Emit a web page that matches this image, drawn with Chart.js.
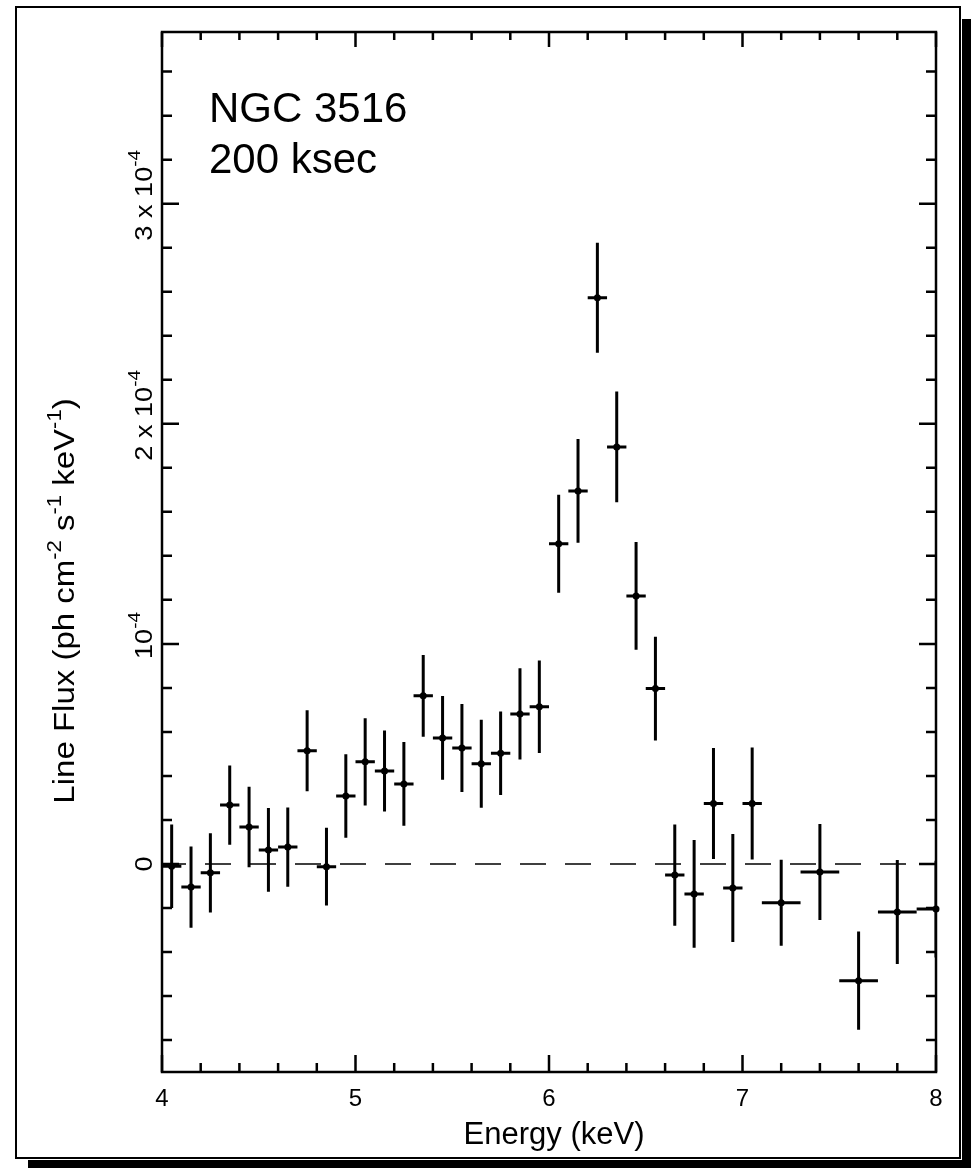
<!DOCTYPE html>
<html>
<head>
<meta charset="utf-8">
<script src="https://cdn.jsdelivr.net/npm/chart.js@4.4.1/dist/chart.umd.min.js"></script>
<style>
  html, body { margin: 0; padding: 0; background: #fff; }
  canvas { display: block; }
</style>
</head>
<body>
<canvas id="lineFluxChart" width="971" height="1168"></canvas>
<script>
// Fe K line profile of NGC 3516 (200 ksec), line flux vs energy
const FONT = '"Liberation Sans", Arial, Helvetica, sans-serif';
const FLUX_UNIT = 1e-4;

// bin centres and half-widths (keV)
const energy = [4.05, 4.15, 4.25, 4.35, 4.45, 4.55, 4.65, 4.75, 4.85, 4.95,
                5.05, 5.15, 5.25, 5.35, 5.45, 5.55, 5.65, 5.75, 5.85, 5.95,
                6.05, 6.15, 6.25, 6.35, 6.45, 6.55, 6.65, 6.75, 6.85, 6.95,
                7.05, 7.2, 7.4, 7.6, 7.8, 8.0];
const energyHalfWidth = [0.05, 0.05, 0.05, 0.05, 0.05, 0.05, 0.05, 0.05, 0.05, 0.05,
                         0.05, 0.05, 0.05, 0.05, 0.05, 0.05, 0.05, 0.05, 0.05, 0.05,
                         0.05, 0.05, 0.05, 0.05, 0.05, 0.05, 0.05, 0.05, 0.05, 0.05,
                         0.05, 0.1, 0.1, 0.1, 0.1, 0.1];

// line flux and 1-sigma errors, in units of 1e-4 ph cm^-2 s^-1 keV^-1
const flux = [-0.01, -0.105, -0.04, 0.268, 0.168, 0.064, 0.077, 0.514, -0.012, 0.309,
              0.464, 0.423, 0.364, 0.764, 0.573, 0.527, 0.455, 0.503, 0.682, 0.714,
              1.455, 1.695, 2.573, 1.895, 1.218, 0.797, -0.05, -0.136, 0.275, -0.109,
              0.275, -0.176, -0.036, -0.53, -0.218, -0.205];
const fluxErr = [0.19, 0.185, 0.18, 0.18, 0.183, 0.19, 0.18, 0.184, 0.177, 0.19,
                 0.198, 0.184, 0.19, 0.186, 0.19, 0.2, 0.2, 0.19, 0.207, 0.21,
                 0.223, 0.236, 0.25, 0.252, 0.245, 0.236, 0.23, 0.245, 0.252, 0.245,
                 0.254, 0.195, 0.218, 0.223, 0.236, 0.22];

// axis ranges and tick labels
const xMin = 4, xMax = 8;
const yMin = -0.945e-4, yMax = 3.78e-4;
const yTickValues = [0, 1e-4, 2e-4, 3e-4];
const yTickMantissa = ['0', '10', '2 x 10', '3 x 10'];
const yTickExponent = ['', '-4', '-4', '-4'];

const yTitleParts = [['Line Flux (ph cm', false], ['-2', true], [' s', false], ['-1', true],
                     [' keV', false], ['-1', true], [')', false]];
const annotationLines = ['NGC 3516', '200 ksec'];

// draws a run of normal / superscript pieces starting at (x, y) along the current x direction
function drawRich(ctx, parts, x, y, size, supSize, supRise) {
  let cx = x;
  parts.forEach(([text, sup]) => {
    ctx.font = (sup ? supSize : size) + 'px ' + FONT;
    ctx.fillText(text, cx, sup ? y - supRise : y);
    cx += ctx.measureText(text).width;
  });
}

function richWidth(ctx, parts, size, supSize) {
  return parts.reduce((w, [text, sup]) => {
    ctx.font = (sup ? supSize : size) + 'px ' + FONT;
    return w + ctx.measureText(text).width;
  }, 0);
}

const plotDecor = {
  id: 'plotDecor',
  beforeDraw(chart) {
    const ctx = chart.ctx;
    ctx.save();
    ctx.fillStyle = '#fff';
    ctx.fillRect(0, 0, chart.width, chart.height);
    // page frame with drop shadow
    ctx.fillStyle = '#000';
    ctx.fillRect(962, 19, 9, 1149);
    ctx.fillRect(28, 1160, 943, 8);
    ctx.strokeStyle = '#000';
    ctx.lineWidth = 2;
    ctx.strokeRect(16, 7, 944, 1151);
    ctx.restore();
  },
  beforeDatasetsDraw(chart) {
    const ctx = chart.ctx, area = chart.chartArea;
    const xs = chart.scales.x, ys = chart.scales.y;
    ctx.save();
    ctx.beginPath();
    ctx.rect(area.left, area.top, area.right - area.left, area.bottom - area.top);
    ctx.clip();

    // zero level
    const y0 = ys.getPixelForValue(0);
    ctx.strokeStyle = '#000';
    ctx.lineWidth = 1.5;
    ctx.setLineDash([26, 19]);
    ctx.lineDashOffset = 2;
    ctx.beginPath();
    ctx.moveTo(area.left, y0);
    ctx.lineTo(area.right, y0);
    ctx.stroke();
    ctx.setLineDash([]);

    // error bars: bin width and 1-sigma flux error
    ctx.lineWidth = 3;
    energy.forEach((e, i) => {
      const x = xs.getPixelForValue(e);
      const y = ys.getPixelForValue(flux[i] * FLUX_UNIT);
      const xl = xs.getPixelForValue(e - energyHalfWidth[i]);
      const xr = xs.getPixelForValue(e + energyHalfWidth[i]);
      const yt = ys.getPixelForValue((flux[i] + fluxErr[i]) * FLUX_UNIT);
      const yb = ys.getPixelForValue((flux[i] - fluxErr[i]) * FLUX_UNIT);
      ctx.beginPath();
      ctx.moveTo(xl, y);
      ctx.lineTo(xr, y);
      ctx.moveTo(x, yt);
      ctx.lineTo(x, yb);
      ctx.stroke();
    });
    ctx.restore();
  },
  afterDraw(chart) {
    const ctx = chart.ctx, area = chart.chartArea;
    const xs = chart.scales.x, ys = chart.scales.y;
    ctx.save();
    ctx.strokeStyle = '#000';
    ctx.fillStyle = '#000';

    // inward ticks on all four sides
    ctx.lineWidth = 2.5;
    ctx.beginPath();
    for (let v = xMin; v <= xMax + 1e-9; v += 0.2) {
      const x = xs.getPixelForValue(v);
      const major = Math.abs(v - Math.round(v)) < 1e-6;
      const len = major ? 17 : 9;
      ctx.moveTo(x, area.bottom); ctx.lineTo(x, area.bottom - len);
      ctx.moveTo(x, area.top); ctx.lineTo(x, area.top + (major ? 15 : 8));
    }
    for (let k = -4; k <= 18; k++) {
      const v = k * 2e-5;
      const y = ys.getPixelForValue(v);
      const len = k % 5 === 0 ? 17 : 10;
      ctx.moveTo(area.left, y); ctx.lineTo(area.left + len, y);
      ctx.moveTo(area.right, y); ctx.lineTo(area.right - len, y);
    }
    ctx.stroke();

    // plot box
    ctx.lineWidth = 2.5;
    ctx.strokeRect(area.left, area.top, area.right - area.left, area.bottom - area.top);

    // rotated y tick labels with exponents (glyphs run a little wide)
    yTickValues.forEach((v, i) => {
      const y = ys.getPixelForValue(v);
      const parts = [[yTickMantissa[i], false]];
      if (yTickExponent[i]) parts.push([yTickExponent[i], true]);
      ctx.font = '23px ' + FONT;
      const baseW = ctx.measureText(yTickMantissa[i]).width;
      ctx.save();
      ctx.translate(152, y);
      ctx.rotate(-Math.PI / 2);
      ctx.scale(1.18, 1);
      ctx.textBaseline = 'alphabetic';
      drawRich(ctx, parts, -baseW / 2, 0, 23, 16, 12);
      ctx.restore();
    });

    // y axis title
    ctx.save();
    ctx.translate(74, 601);
    ctx.rotate(-Math.PI / 2);
    ctx.scale(1.1, 1);
    const tw = richWidth(ctx, yTitleParts, 30, 20);
    drawRich(ctx, yTitleParts, -tw / 2, 0, 30, 20, 13);
    ctx.restore();

    // x axis title
    ctx.font = '31px ' + FONT;
    ctx.textAlign = 'center';
    ctx.fillText('Energy (keV)', 554, 1144);

    // source and exposure
    ctx.font = '42px ' + FONT;
    ctx.textAlign = 'left';
    ctx.fillText(annotationLines[0], 209, 122);
    ctx.fillText(annotationLines[1], 209, 173);
    ctx.restore();
  }
};

const points = energy.map((e, i) => ({ x: e, y: flux[i] * FLUX_UNIT }));

const ctx = document.getElementById('lineFluxChart').getContext('2d');
const chart = new Chart(ctx, {
  type: 'scatter',
  data: {
    datasets: [{
      data: points,
      pointRadius: 3.5,
      pointBackgroundColor: '#000',
      pointBorderWidth: 0,
      clip: false
    }]
  },
  options: {
    responsive: false,
    animation: false,
    layout: { padding: { left: 0, top: 32, right: 35, bottom: 0 } },
    plugins: {
      legend: { display: false },
      tooltip: { enabled: false }
    },
    scales: {
      x: {
        type: 'linear',
        min: xMin,
        max: xMax,
        afterFit: scale => { scale.height = 96; },
        grid: { display: false },
        border: { display: false },
        ticks: {
          stepSize: 1,
          color: '#000',
          padding: 5,
          maxRotation: 0,
          font: { family: FONT, size: 24 }
        }
      },
      y: {
        type: 'linear',
        min: yMin,
        max: yMax,
        afterFit: scale => { scale.width = 162; },
        grid: { display: false },
        border: { display: false },
        ticks: { display: false }
      }
    }
  },
  plugins: [plotDecor]
});
</script>
</body>
</html>
